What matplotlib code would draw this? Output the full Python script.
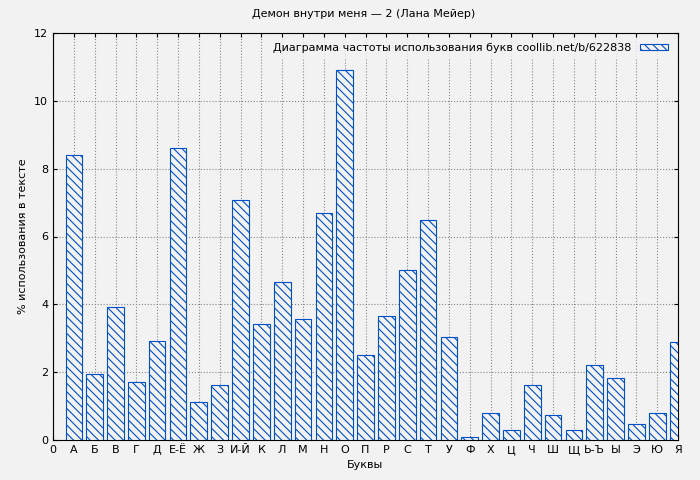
import matplotlib
matplotlib.use("Agg")
import matplotlib.pyplot as plt

letters = ["А", "Б", "В", "Г", "Д", "Е-Ё", "Ж", "З", "И-Й", "К", "Л", "М", "Н", "О", "П",
           "Р", "С", "Т", "У", "Ф", "Х", "Ц", "Ч", "Ш", "Щ", "Ь-Ъ", "Ы", "Э", "Ю", "Я"]
values = [8.4, 1.95, 3.93, 1.72, 2.93, 8.62, 1.13, 1.63, 7.08, 3.43, 4.67, 3.58, 6.7, 10.9, 2.5,
          3.67, 5.02, 6.5, 3.05, 0.08, 0.8, 0.3, 1.63, 0.75, 0.3, 2.22, 1.82, 0.47, 0.8, 2.9]

bg = "#f2f2f2"
blue = "#0050c8"
plt.rcParams["hatch.color"] = blue
plt.rcParams["hatch.linewidth"] = 0.8

fig = plt.figure(figsize=(7.0, 4.8), dpi=100, facecolor=bg)
ax = fig.add_axes([53/700, 40/480, 625/700, 407/480], facecolor=bg)

xs = list(range(1, len(letters) + 1))
ax.bar(xs, values, width=0.8, facecolor=bg, edgecolor=blue, hatch="\\\\\\\\",
       linewidth=0.8, label="Диаграмма частоты использования букв coollib.net/b/622838", zorder=3)

ax.set_xlim(0, 30)
ax.set_ylim(0, 12)
ax.set_xticks([0] + xs)
ax.set_xticklabels(["0"] + letters, fontsize=8)
ax.set_yticks(range(0, 13, 2))
ax.tick_params(axis="y", labelsize=8)
ax.tick_params(direction="in", top=True, right=True, length=3)
ax.grid(True, linestyle=":", color="#888888", linewidth=0.8, zorder=0)

ax.set_xlabel("Буквы", fontsize=8)
ax.set_ylabel("% использования в тексте", fontsize=8)
fig.text(0.52, 0.965, "Демон внутри меня — 2 (Лана Мейер)", ha="center", fontsize=8)

leg = ax.legend(loc="upper right", fontsize=8, frameon=True, fancybox=False,
                markerfirst=False, handlelength=2.5, handleheight=0.4,
                borderaxespad=0.5)
leg.get_frame().set_facecolor(bg)
leg.get_frame().set_edgecolor(bg)

fig.savefig("out.png", dpi=100, facecolor=bg)
